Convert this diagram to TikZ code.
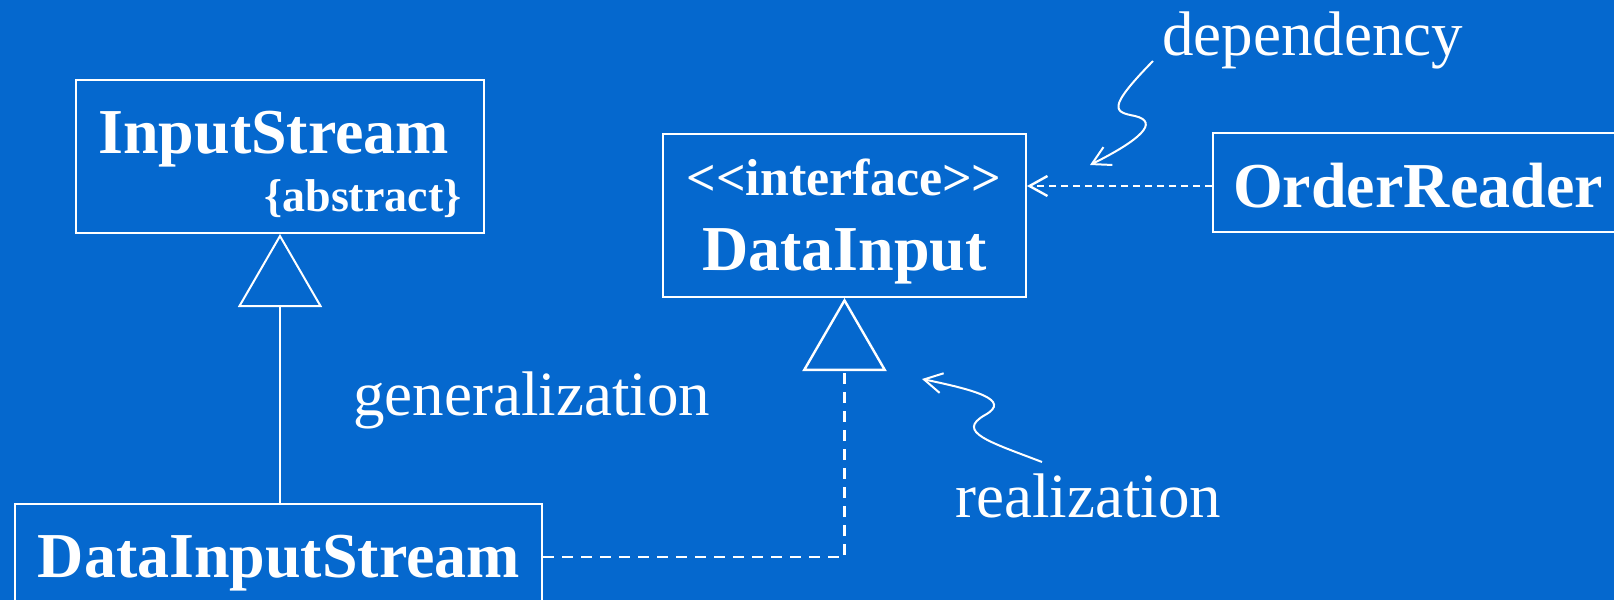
\documentclass[tikz,border=0pt]{standalone}
\usepackage{fontspec}
\setmainfont{Liberation Serif}
\usepackage{tikz}
\usetikzlibrary{arrows.meta,positioning,calc}
\usepackage{xcolor}
\definecolor{SlideBlue}{HTML}{0568CE}
\begin{document}
\begin{tikzpicture}[x=0.5pt,y=-0.5pt,
  umlbox/.style={draw=white,line width=1pt,inner sep=0pt},
  bigname/.style={text=white,inner sep=0pt,font=\fontsize{32}{38}\selectfont\bfseries},
  note/.style={text=white,inner sep=0pt,font=\fontsize{31.5}{38}\selectfont},
  genarrow/.style={draw=white,line width=1pt,-{Triangle[open,length=36.5pt,width=42pt]}},
  realarrow/.style={genarrow,line width=1.2pt,dash pattern=on 5.5pt off 4pt},
  deparrow/.style={draw=white,line width=1.2pt,dash pattern=on 3.5pt off 2.5pt,-{Straight Barb[length=9pt,width=10pt]}},
  squiggle/.style={draw=white,line width=1pt,-{Straight Barb[length=9pt,width=10pt]}}]
\useasboundingbox (0,0) rectangle (1614,600);
\fill[SlideBlue] (0,0) rectangle (1614,600);
% class boxes
\node[umlbox,minimum width=204pt,minimum height=76.5pt] (instream) at (280,156.5) {};
\node[bigname,anchor=base west] (instreamname) at (98,153) {InputStream};
\node[bigname,anchor=base east,font=\fontsize{23}{28}\selectfont\bfseries] (abstract) at (462,211) {\{abstract\}};
\node[umlbox,minimum width=181.5pt,minimum height=81.5pt] (datainput) at (844.5,215.5) {};
\node[bigname,anchor=base,font=\fontsize{26}{30}\selectfont\bfseries] (stereo) at (844,195) {<\kern0pt<interface>\kern0pt>};
\node[bigname,anchor=base] (datainputname) at (844.5,270) {DataInput};
\node[umlbox,minimum width=208.5pt,minimum height=49.5pt] (orderreader) at (1421.5,182.5) {};
\node[bigname,anchor=base] (orderreadername) at (1418,207) {OrderReader};
\node[umlbox,minimum width=263.5pt,minimum height=53pt] (dis) at (278.5,557) {};
\node[bigname,anchor=base] (disname) at (279,577) {DataInputStream};
% relations
\draw[genarrow] (dis.north -| instream.south) -- (instream.south);
\draw[realarrow] (dis.east) -| (datainput.south);
\draw[deparrow] (orderreader.west |- 0,186) -- (datainput.east |- 0,186);
% labels
\node[note,anchor=base west] (deplabel) at (1162,55) {dependency};
\node[note,anchor=base west] (genlabel) at (353,415) {generalization};
\node[note,anchor=base west] (reallabel) at (955,517) {realization};
\coordinate (deptip) at (1090,165);
\coordinate (realtip) at (922,379);
\draw[squiggle] (1153,61) .. controls (1105,110) and (1115,112) .. (1135,116) .. controls (1160,122) and (1140,140) .. (deptip);
\draw[squiggle] (1042,462) .. controls (990,442) and (955,432) .. (985,415) .. controls (1012,400) and (975,390) .. (realtip);
\end{tikzpicture}
\end{document}
